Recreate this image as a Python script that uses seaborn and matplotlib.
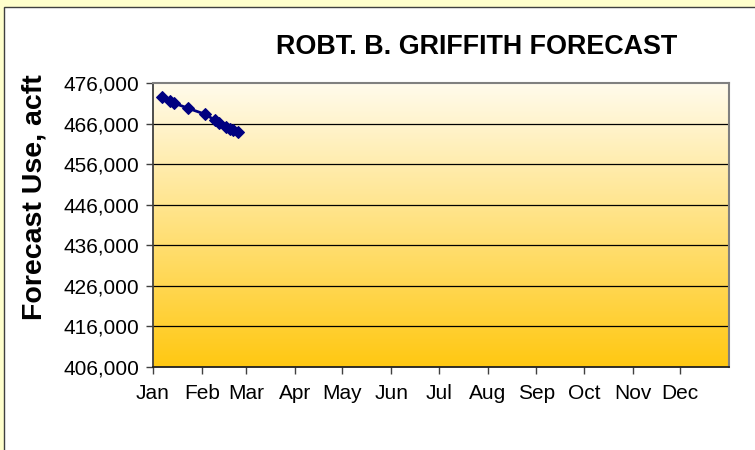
import numpy as np
import pandas as pd
import matplotlib
matplotlib.use("Agg")
import matplotlib.pyplot as plt
from matplotlib.patches import Rectangle
from matplotlib.ticker import FuncFormatter
import seaborn as sns

# ---- data ----
forecast_day = [7, 12, 14, 23, 34, 40, 43, 47, 50, 52, 55]          # day of year
forecast_use = [472500, 471500, 471100, 469800, 468300, 466900,
                466100, 465200, 464700, 464400, 463800]             # acft
month_labels = ["Jan", "Feb", "Mar", "Apr", "May", "Jun",
                "Jul", "Aug", "Sep", "Oct", "Nov", "Dec"]
month_starts = [1, 32, 60, 91, 121, 152, 182, 213, 244, 274, 305, 335]
y_ticks = [406000, 416000, 426000, 436000, 446000, 456000, 466000, 476000]

sns.set_theme(style="white")
plt.rcParams["font.family"] = ["Liberation Sans", "DejaVu Sans"]

W, H = 755, 450
fig = plt.figure(figsize=(W / 100, H / 100), dpi=100)
fig.patch.set_facecolor("#FFFFCC")

# white chart panel with border
panel = Rectangle((4 / W, -0.1), 1.2, 1.1 - 7 / H, transform=fig.transFigure,
                  facecolor="white", edgecolor="#404040", linewidth=1.0,
                  zorder=-10)
fig.patches.append(panel)

left, right, top, bottom = 153 / W, 729 / W, 1 - 83 / H, 1 - 367 / H
ax = fig.add_axes([left, bottom, right - left, top - bottom])
ax.set_zorder(5)
ax.set_facecolor("none")

# gradient background
top_c = np.array([255, 251, 236]) / 255
bot_c = np.array([255, 200, 18]) / 255
t = np.linspace(0, 1, 256)[:, None]
grad = (top_c[None, :] * (1 - t) + bot_c[None, :] * t)[:, None, :]
ax.imshow(grad, extent=[0, 1, 0, 1], transform=ax.transAxes, aspect="auto",
          zorder=0, origin="upper")

df = pd.DataFrame({"day": forecast_day, "use": forecast_use})
sns.lineplot(data=df, x="day", y="use", ax=ax, color="#000080",
             linewidth=2.0, marker="D", markersize=6,
             markeredgecolor="#000080", markerfacecolor="#000080", zorder=5)

ax.set_xlim(1, 366)
ax.set_ylim(406000, 476000)
ax.set_xticks(month_starts)
ax.set_xticklabels(month_labels)
ax.set_yticks(y_ticks)
ax.yaxis.set_major_formatter(FuncFormatter(lambda v, p: f"{int(v):,}"))
ax.grid(False)
for yv in y_ticks[1:-1]:
    ax.axhline(yv, color="black", linewidth=0.9, zorder=1)

ax.tick_params(axis="both", which="major", direction="out", length=5,
               width=1, color="#404040", labelcolor="black",
               pad=3, left=True, bottom=True)
ax.tick_params(axis="y", labelsize=15, pad=5)
ax.tick_params(axis="x", labelsize=15, pad=7)

for s in ["top", "right"]:
    ax.spines[s].set_visible(True)
    ax.spines[s].set_color("#808080")
    ax.spines[s].set_linewidth(1.5)
ax.spines["left"].set_color("#404040")
ax.spines["left"].set_linewidth(1.3)
ax.spines["bottom"].set_color("#202020")
ax.spines["bottom"].set_linewidth(1.3)

ax.set_xlabel("")
ax.set_ylabel("")
fig.text(35 / W, 1 - 197 / H, "Forecast Use, acft", rotation=90,
         ha="center", va="center", fontsize=20.5, fontweight="bold",
         color="black")

fig.text(477 / W, 1 - 47 / H, "ROBT. B. GRIFFITH FORECAST", ha="center",
         va="center", fontsize=19.4, fontweight="bold", color="black")

fig.savefig("out.png", dpi=100, facecolor=fig.get_facecolor())
